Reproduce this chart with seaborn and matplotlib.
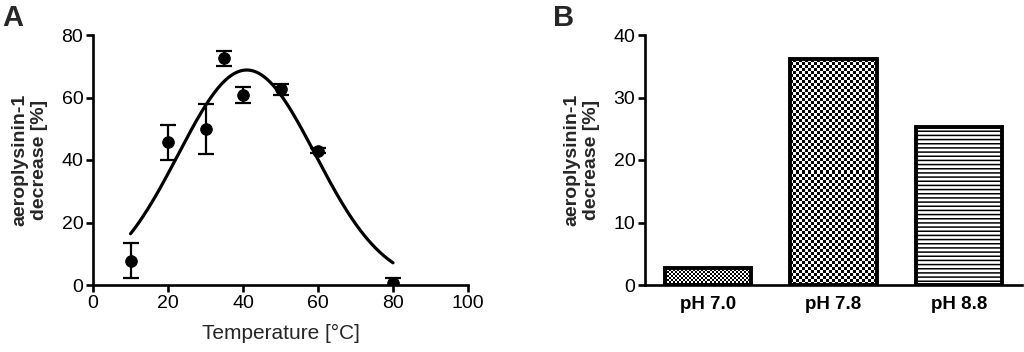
import numpy as np
import pandas as pd
import matplotlib
matplotlib.use("Agg")
import matplotlib.pyplot as plt
import seaborn as sns

# panel A: temperature series (mean +/- error)
temps = [10, 20, 30, 35, 40, 50, 60, 80]
decrease = [7.8, 45.7, 49.8, 72.5, 60.8, 62.6, 43.0, 0.8]
err = [5.6, 5.6, 8.0, 2.4, 2.7, 1.8, 0.8, 1.5]

# gaussian fit parameters
fit_amp = 68.8
fit_center = 41.0
fit_width = 18.3
fit_range = (10, 80)

# panel B: pH bars
ph_labels = ["pH 7.0", "pH 7.8", "pH 8.8"]
ph_values = [2.8, 36.1, 25.3]

sns.set_theme(style="ticks")
plt.rcParams["font.family"] = ["Liberation Sans", "DejaVu Sans"]
plt.rcParams["hatch.linewidth"] = 1.1
plt.rcParams["hatch.color"] = "black"

fig = plt.figure(figsize=(10.24, 3.52), dpi=100)
axA = fig.add_axes([93/1024, 67/352, 375/1024, 250/352])
axB = fig.add_axes([645/1024, 67/352, 377/1024, 250/352])

for ax in (axA, axB):
    sns.despine(ax=ax)
    for s in ("left", "bottom"):
        ax.spines[s].set_linewidth(1.9)
        ax.spines[s].set_color("black")
    ax.tick_params(axis="both", direction="out", length=5, width=1.9,
                   color="black", labelsize=14, labelcolor="black", pad=2)

# ---- A ----
df = pd.DataFrame({"temp": temps, "dec": decrease, "err": err})
xs = np.linspace(fit_range[0], fit_range[1], 200)
curve = pd.DataFrame({"temp": xs,
                      "fit": fit_amp * np.exp(-(xs - fit_center) ** 2 / (2 * fit_width ** 2))})
sns.lineplot(data=curve, x="temp", y="fit", ax=axA, color="black", linewidth=2.3)
axA.errorbar(df["temp"], df["dec"], yerr=df["err"], fmt="none", ecolor="black",
             elinewidth=1.6, capsize=6, capthick=1.6, zorder=3)
sns.scatterplot(data=df, x="temp", y="dec", ax=axA, color="black", s=70,
                edgecolor="black", zorder=4)
axA.set_xlim(0, 100)
axA.set_ylim(0, 80)
axA.set_xticks(range(0, 101, 20))
axA.set_yticks(range(0, 81, 20))
axA.set_xlabel("Temperature [°C]", fontsize=15, labelpad=9)
axA.set_ylabel("aeroplysinin-1\ndecrease [%]", fontsize=14, fontweight="bold",
               labelpad=10)
fig.text(2/1024, 1 - 26/352, "A", fontsize=21, fontweight="bold")

# ---- B ----
bdf = pd.DataFrame({"ph": ph_labels, "val": ph_values})
sns.barplot(data=bdf, x="ph", y="val", ax=axB, width=0.685, color="white",
            edgecolor="black", linewidth=2.8, saturation=1)
axB.set_xlim(-0.5, 2.5)
axB.set_ylim(0, 40)
axB.set_yticks(range(0, 41, 10))
axB.set_xlabel("")
axB.set_ylabel("aeroplysinin-1\ndecrease [%]", fontsize=14, fontweight="bold",
               labelpad=10)
axB.tick_params(axis="x", length=0, pad=8)
for lab in axB.get_xticklabels():
    lab.set_fontweight("bold")
    lab.set_fontsize(13.5)
fig.text(553/1024, 1 - 26/352, "B", fontsize=21, fontweight="bold")

# fill patterns: checkerboards for the first two bars, lines for the third
fig.canvas.draw()
cells = [2.0, 3.0]
for p, cell in zip(axB.patches[:2], cells):
    x0, y0 = p.get_x(), p.get_y()
    x1, y1 = x0 + p.get_width(), y0 + p.get_height()
    (px0, py0), (px1, py1) = axB.transData.transform([(x0, y0), (x1, y1)])
    nx = max(1, int(round((px1 - px0) / cell)))
    ny = max(1, int(round((py1 - py0) / cell)))
    board = np.indices((ny, nx)).sum(axis=0) % 2
    p.set_facecolor("none")
    p.set_zorder(3)
    im = axB.imshow(board, cmap="Greys", vmin=0, vmax=1, extent=(x0, x1, y0, y1),
                    origin="lower", aspect="auto", interpolation="nearest", zorder=2)
    im.set_clip_path(p)
axB.patches[2].set_hatch("----")
axB.set_xlim(-0.5, 2.5)
axB.set_ylim(0, 40)

fig.savefig("out.png", dpi=100)
